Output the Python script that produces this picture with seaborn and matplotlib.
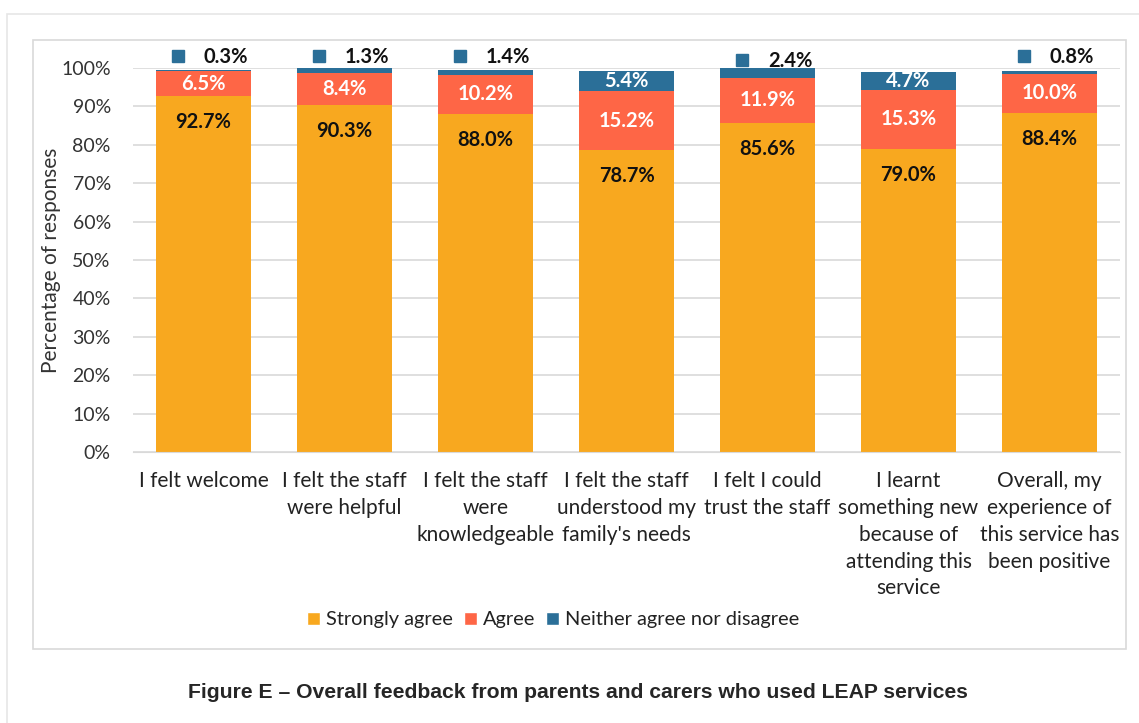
import matplotlib
matplotlib.use('Agg')
import matplotlib.pyplot as plt
from matplotlib.patches import Rectangle, Patch
import seaborn as sns
import pandas as pd
import numpy as np

categories = ['I felt welcome', 'I felt the staff\nwere helpful', 'I felt the staff\nwere\nknowledgeable',
              "I felt the staff\nunderstood my\nfamily's needs", 'I felt I could\ntrust the staff',
              'I learnt\nsomething new\nbecause of\nattending this\nservice',
              'Overall, my\nexperience of\nthis service has\nbeen positive']
strongly_agree = [92.7, 90.3, 88.0, 78.7, 85.6, 79.0, 88.4]
agree = [6.5, 8.4, 10.2, 15.2, 11.9, 15.3, 10.0]
neither = [0.3, 1.3, 1.4, 5.4, 2.4, 4.7, 0.8]
series_names = ['Strongly agree', 'Agree', 'Neither agree nor disagree']
colors = ['#F8A81F', '#FE6646', '#2B6F98']

sns.set_style('white')
plt.rcParams['font.family'] = ['Lato', 'DejaVu Sans']

df = pd.DataFrame({'cat': categories, 'sa': strongly_agree, 'a': agree, 'n': neither})
df['sa_a'] = df['sa'] + df['a']
df['total'] = df['sa_a'] + df['n']

fig = plt.figure(figsize=(11.39, 7.23), dpi=100)
W, H = 1139, 723
# outer and inner frames
fig.patches.append(Rectangle((7 / W, -0.1), 1.2, 1 - 14 / H + 0.1, transform=fig.transFigure,
                             fill=False, edgecolor='#E6E6E6', lw=1.2))
fig.patches.append(Rectangle((33 / W, 1 - 649 / H), (1126 - 33) / W, (649 - 40) / H,
                             transform=fig.transFigure, fill=False, edgecolor='#D9D9D9', lw=1.2))

ax = fig.add_axes([133 / W, 1 - 452 / H, (1120 - 133) / W, (452 - 68) / H])
for col, c in zip(['total', 'sa_a', 'sa'], colors[::-1]):
    sns.barplot(data=df, x='cat', y=col, color=c, width=0.667, saturation=1, linewidth=0, ax=ax)

ax.set_ylim(0, 100)
ax.set_xlim(-0.5, len(categories) - 0.5)
ax.set_yticks(np.arange(0, 101, 10))
ax.set_yticklabels([f'{v}%' for v in range(0, 101, 10)], fontsize=14, color='#333333')
ax.set_xticks(range(len(categories)))
ax.set_xticklabels(categories, fontsize=15, color='#222222', linespacing=1.42)
ax.tick_params(axis='x', length=0, pad=14)
ax.tick_params(axis='y', length=0, pad=16)
ax.yaxis.grid(True, color='#D9D9D9', lw=1.2)
ax.set_axisbelow(True)
for s in ['top', 'right', 'left']:
    ax.spines[s].set_visible(False)
ax.spines['bottom'].set_color('#D9D9D9')
ax.set_xlabel('')
ax.set_ylabel('Percentage of responses', fontsize=15, color='#333333')
ax.yaxis.set_label_coords(-72 / 987, 0.5)

for i in range(len(categories)):
    sa, a, n = strongly_agree[i], agree[i], neither[i]
    ax.text(i, sa - 6.8, f'{sa:.1f}%', ha='center', va='center', fontsize=14.5, fontweight='bold', color='#111111')
    ax.text(i, sa + a / 2, f'{a:.1f}%', ha='center', va='center', fontsize=14.5, fontweight='bold', color='white')
    if n > 3:
        ax.text(i, sa + a + n / 2, f'{n:.1f}%', ha='center', va='center', fontsize=14.5, fontweight='bold', color='white')
    else:
        y = 102.8 if i != 4 else 101.8
        ax.plot(i - 0.18, y + 0.2, marker='s', ms=8.5, color=colors[2], clip_on=False, lw=0)
        ax.text(i + 0.16, y, f'{n:.1f}%', ha='center', va='center', fontsize=14.5, fontweight='bold',
                color='#111111', clip_on=False)

handles = [Patch(facecolor=c, label=l) for c, l in zip(colors, series_names)]
fig.legend(handles=handles, loc='center', bbox_to_anchor=(553 / W, 1 - 620 / H), ncol=3, frameon=False,
           fontsize=14.4, handlelength=0.65, handleheight=0.65, handletextpad=0.3, columnspacing=0.55,
           labelcolor='#222222')

fig.text(578 / W, 1 - 692 / H, 'Figure E \u2013 Overall feedback from parents and carers who used LEAP services',
         ha='center', va='center', fontsize=15.2, fontweight='bold', family='Liberation Sans')

fig.savefig('out.png', dpi=100)
